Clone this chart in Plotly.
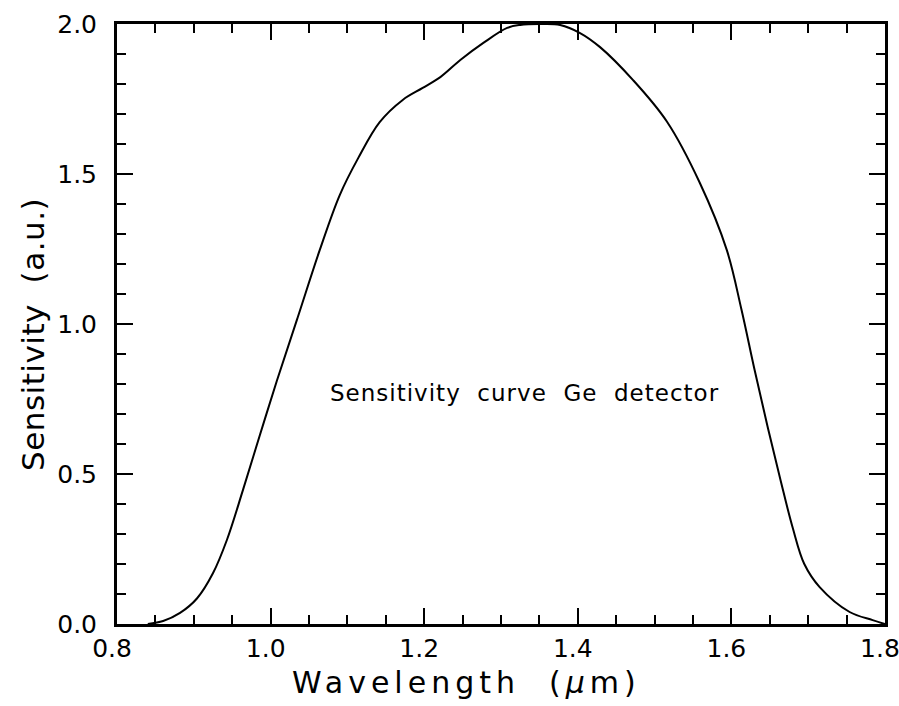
import plotly.graph_objects as go

wavelength = [0.84, 0.86, 0.882, 0.904, 0.925, 0.943, 0.964, 0.986, 1.008, 1.035,
              1.064, 1.09, 1.114, 1.142, 1.172, 1.198, 1.221, 1.247, 1.277,
              1.308, 1.325, 1.35, 1.377, 1.403, 1.429, 1.472, 1.516, 1.559,
              1.594, 1.613, 1.63, 1.647, 1.664, 1.68, 1.695, 1.715, 1.754, 1.784, 1.8]
sensitivity = [0.0, 0.01, 0.037, 0.085, 0.17, 0.28, 0.447, 0.63, 0.81, 1.02,
               1.247, 1.43, 1.553, 1.673, 1.747, 1.787, 1.823, 1.88, 1.937,
               1.987, 1.997, 2.0, 1.997, 1.97, 1.923, 1.813, 1.675, 1.47,
               1.247, 1.05, 0.85, 0.66, 0.48, 0.32, 0.2, 0.123, 0.04, 0.013, 0.0]

x_ticks = [0.8, 1.0, 1.2, 1.4, 1.6, 1.8]
y_ticks = [0.0, 0.5, 1.0, 1.5, 2.0]

FONT = "DejaVu Sans"

fig = go.Figure()
fig.add_trace(go.Scatter(
    x=wavelength, y=sensitivity, mode="lines",
    line=dict(color="black", width=2, shape="spline", smoothing=1.0),
    showlegend=False, hoverinfo="skip",
))

fig.add_annotation(
    x=1.33, y=0.77, xref="x", yref="y",
    text='<span style="letter-spacing:1px">Sensitivity  curve  Ge  detector</span>',
    showarrow=False, font=dict(family=FONT, size=23, color="black"),
)

# axis titles placed as annotations (reference titles are offset from centre)
fig.add_annotation(
    x=(466 - 117) / 768, y=-(682 - 624) / 600, xref="paper", yref="paper",
    text='<span style="letter-spacing:5px">Wavelength  (<i>μ</i>m)</span>',
    showarrow=False, font=dict(family=FONT, size=30, color="black"),
    xanchor="center", yanchor="middle",
)
fig.add_annotation(
    x=(33 - 117) / 768, y=(624 - 335) / 600, xref="paper", yref="paper",
    text='<span style="letter-spacing:0.5px">Sensitivity  (a.u.)</span>',
    showarrow=False, textangle=-90, font=dict(family=FONT, size=31, color="black"),
    xanchor="center", yanchor="middle",
)

axis_common = dict(
    showline=True, linecolor="black", linewidth=3, mirror="ticks",
    ticks="inside", ticklen=16, tickwidth=2, tickcolor="black",
    showgrid=False, zeroline=False,
    tickfont=dict(family=FONT, size=25, color="black"),
    tickformat=".1f", ticklabeloverflow="allow",
)

fig.update_xaxes(
    range=[0.7999, 1.8001], tickvals=x_ticks,
    minor=dict(dtick=0.05, tick0=0.8, ticks="inside", ticklen=9, tickwidth=2,
               tickcolor="black", showgrid=False),
    ticklabelstandoff=0, ticklabelshift=-5,
    **axis_common,
)
fig.update_yaxes(
    range=[0.0, 2.0001], tickvals=y_ticks,
    minor=dict(dtick=0.1, tick0=0, ticks="inside", ticklen=9, tickwidth=2,
               tickcolor="black", showgrid=False),
    ticklabelstandoff=12,
    **axis_common,
)

fig.update_layout(
    width=899, height=706,
    margin=dict(l=117, r=14, t=24, b=82, autoexpand=False),
    paper_bgcolor="white", plot_bgcolor="white",
)

fig.write_html("out.html")
